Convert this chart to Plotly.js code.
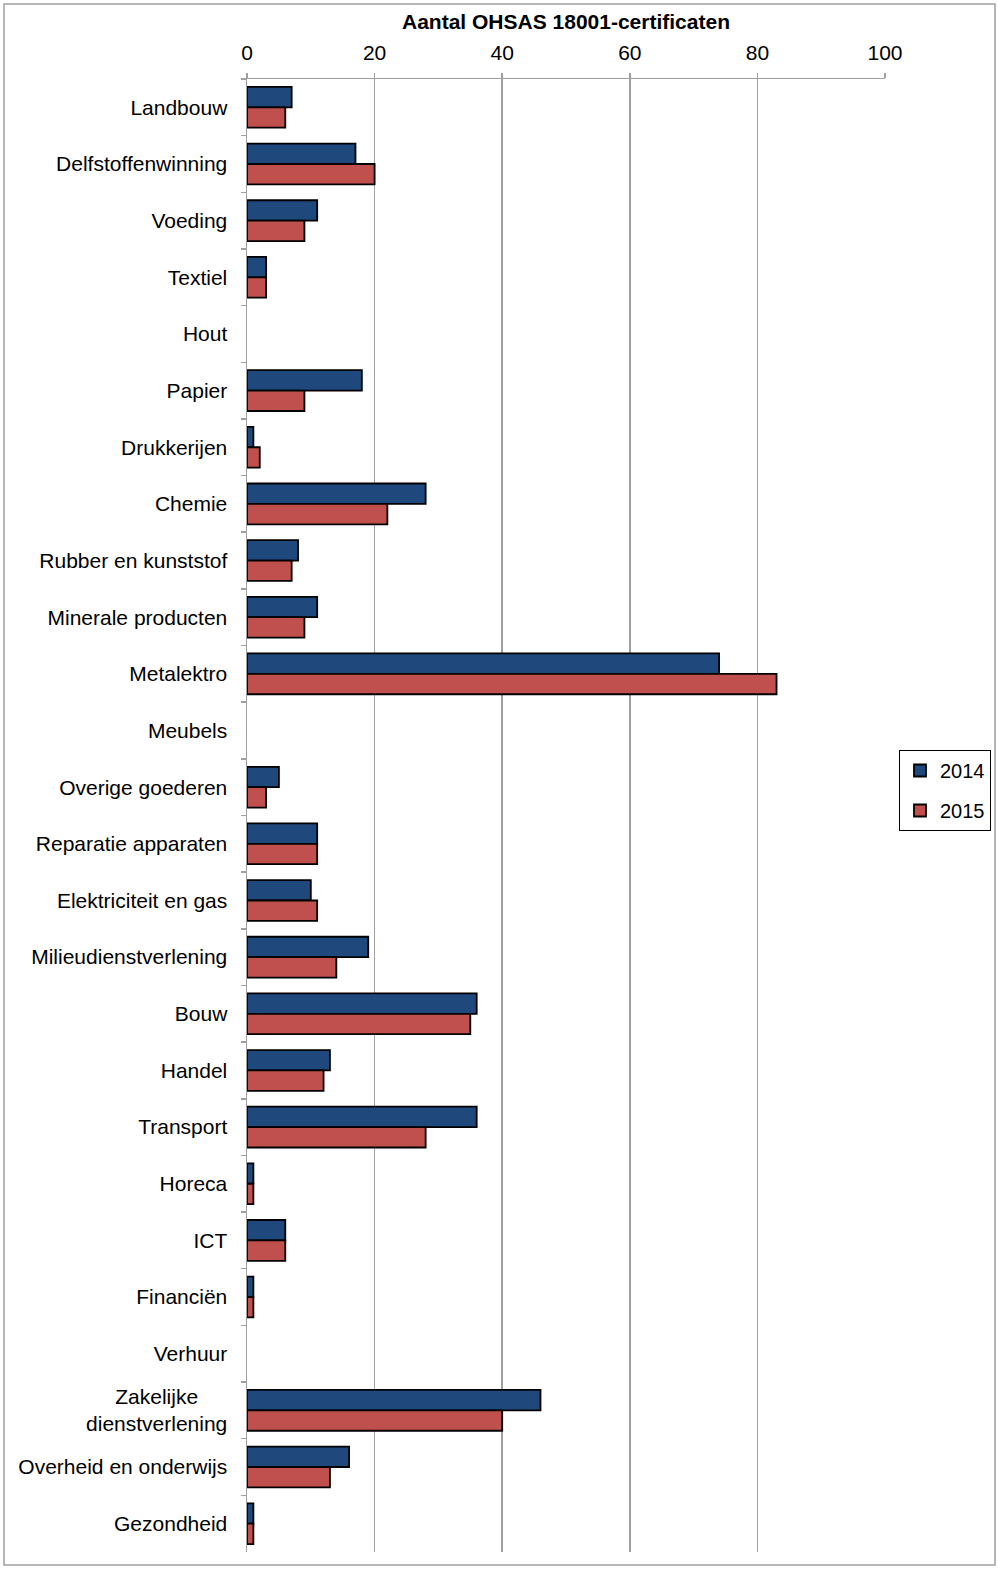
<!DOCTYPE html>
<html>
<head>
<meta charset="utf-8">
<script src="https://cdn.plot.ly/plotly-3.0.1.min.js"></script>
<style>
html,body{margin:0;padding:0;background:#fff;}
#chart{width:998px;height:1569px;}
</style>
</head>
<body>
<div id="chart"></div>
<script>
const categories = [
  "Landbouw","Delfstoffenwinning","Voeding","Textiel","Hout","Papier","Drukkerijen","Chemie",
  "Rubber en kunststof","Minerale producten","Metalektro","Meubels","Overige goederen",
  "Reparatie apparaten","Elektriciteit en gas","Milieudienstverlening","Bouw","Handel",
  "Transport","Horeca","ICT","Financiën","Verhuur",
  "Zakelijke&nbsp;&nbsp;&nbsp;&nbsp;&nbsp;<br>dienstverlening",
  "Overheid en onderwijs","Gezondheid"
];
const values2014 = [7,17,11,3,0,18,1,28,8,11,74,0,5,11,10,19,36,13,36,1,6,1,0,46,16,1];
const values2015 = [6,20,9,3,0,9,2,22,7,9,83,0,3,11,11,14,35,12,28,1,6,1,0,40,13,1];
const xTicks = [0,20,40,60,80,100];

const fam = "Liberation Sans, Arial, sans-serif";
const fs = 21;
const outline = v => v.map(x => x === 0 ? 0 : 1.8);

const traces = [
  {type:"bar", orientation:"h", name:"2014", y:categories, x:values2014,
   marker:{color:"#1f497d", line:{color:"#000", width:outline(values2014)}}, legendgroup:"a"},
  {type:"bar", orientation:"h", name:"2015", y:categories, x:values2015,
   marker:{color:"#c0504d", line:{color:"#000", width:outline(values2015)}}, legendgroup:"b"}
];

const layout = {
  width:998, height:1569,
  margin:{l:247, r:113, t:79, b:17, autoexpand:false},
  paper_bgcolor:"#fff", plot_bgcolor:"#fff",
  font:{family:fam, size:fs, color:"#000"},
  barmode:"group", bargap:0.28, bargroupgap:0,
  title:{text:"<b>Aantal OHSAS 18001-certificaten</b>", font:{family:fam, size:fs, color:"#000"},
    xref:"paper", x:0.5, xanchor:"center", yref:"container", y:1-22/1569, yanchor:"middle"},
  xaxis:{side:"top", range:[0,100], tickvals:xTicks, ticktext:xTicks.map(String),
    showgrid:true, gridcolor:"#a0a0a0", gridwidth:1.5, zeroline:false,
    showline:true, linecolor:"#a0a0a0", linewidth:1.5,
    ticks:"outside", ticklen:5, tickcolor:"#a0a0a0", tickwidth:1.5, ticklabelstandoff:4,
    tickfont:{family:fam, size:fs, color:"#000"}, fixedrange:true},
  yaxis:{type:"category", autorange:"reversed", showgrid:false, zeroline:false,
    showline:true, linecolor:"#a0a0a0", linewidth:1.5,
    ticks:"outside", ticklen:5, tickcolor:"#a0a0a0", tickwidth:1.5, tickson:"boundaries",
    ticklabelstandoff:14,
    tickfont:{family:fam, size:fs, color:"#000"}, fixedrange:true},
  showlegend:true,
  legend:{x:(899-247)/638, xanchor:"left", y:(1552-750)/1473, yanchor:"top",
    bordercolor:"#000", borderwidth:1, bgcolor:"#fff",
    font:{family:fam, size:20, color:"#000"}, traceorder:"grouped", tracegroupgap:11,
    itemwidth:30},
  shapes:[{type:"rect", xref:"paper", yref:"paper",
    x0:(4-247)/638, x1:(995-247)/638, y0:(1552-1565)/1473, y1:(1552-4)/1473,
    line:{color:"#a0a0a0", width:1.5}, fillcolor:"rgba(0,0,0,0)", layer:"below"}]
};

Plotly.newPlot("chart", traces, layout, {displayModeBar:false, staticPlot:true});
</script>
</body>
</html>
